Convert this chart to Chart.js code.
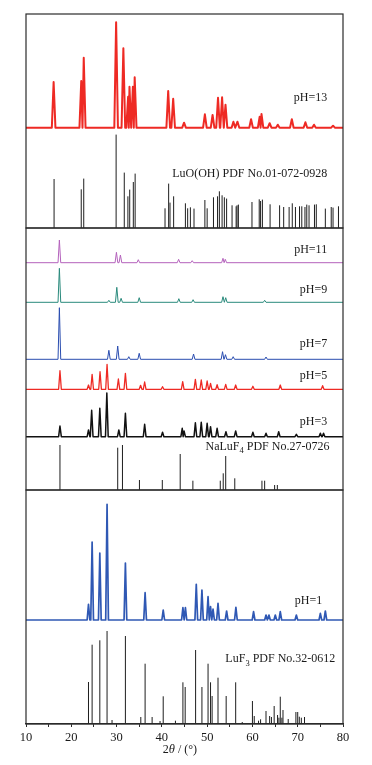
<!DOCTYPE html>
<html>
<head>
<meta charset="utf-8">
<script src="https://cdn.jsdelivr.net/npm/chart.js@4/dist/chart.umd.min.js"></script>
<style>
  body { margin: 0; background: #fff; }
  #xrd { display: block; }
</style>
</head>
<body>
<canvas id="xrd" width="372" height="765"></canvas>
<script>
// 2theta positions (deg) and peak intensities (a.u.)

// pH=13 pattern
const ph13Pos = [16.1, 22.2, 22.75, 29.9, 31.5, 32.55, 32.85, 33.6, 34.0, 41.4, 42.5, 44.9, 49.5, 51.2, 52.4, 53.3, 54.05, 55.8, 56.7, 59.7, 61.6, 62.0, 63.8, 65.6, 68.7, 71.7, 73.6, 77.8];
const ph13Int = [45.7, 46.7, 70, 105.4, 79.4, 31, 41, 41, 50.4, 36.7, 29, 5, 13.4, 12.7, 30, 30.4, 23, 6, 6, 8.4, 11, 13.7, 4.5, 3, 8.4, 5.4, 3, 2];

// LuO(OH) PDF 01-072-0928
const luoohPos = [16.2, 22.2, 22.75, 29.9, 31.7, 32.5, 32.9, 33.7, 34.1, 40.7, 41.5, 41.8, 42.6, 45.2, 45.7, 46.3, 47.1, 49.5, 50.0, 51.4, 52.3, 52.7, 53.3, 53.8, 54.3, 55.5, 56.4, 56.6, 56.9, 59.9, 61.5, 61.8, 62.2, 63.9, 66.0, 66.9, 68.1, 68.8, 69.5, 70.4, 70.9, 71.6, 72.0, 72.5, 73.7, 74.1, 76.1, 77.4, 77.8, 79.0];
const luoohInt = [49, 38.7, 49.4, 93.4, 55.4, 31.7, 38.4, 46, 54.4, 19.7, 44.4, 25.4, 31.7, 24.7, 19.7, 20.7, 19.4, 28, 19.7, 30.7, 31.7, 36.7, 32.7, 30.7, 29.4, 22.7, 21.7, 22.7, 23.4, 26, 28.7, 27, 28.4, 23.7, 22.7, 21, 21, 24.7, 21, 21.7, 21.7, 21, 23.4, 22.7, 23.4, 23.7, 19.4, 21, 20.4, 21.7];

// pH=11
const ph11Pos = [17.37, 29.97, 30.85, 34.8, 43.7, 46.7, 53.5, 54.0];
const ph11Int = [22.7, 10.4, 7.7, 3, 3.4, 2, 4.4, 3.4];

// pH=9
const ph9Pos = [17.37, 28.3, 30.05, 31.0, 35.0, 43.75, 46.9, 53.5, 54.1, 62.7];
const ph9Int = [34, 2, 15, 4, 4.6, 3.6, 2.6, 5.6, 4.6, 2];

// pH=7
const ph7Pos = [17.37, 28.3, 30.25, 32.7, 35.0, 47.0, 53.4, 54.05, 55.75, 63.0];
const ph7Int = [51.6, 9, 13.3, 2.6, 6, 5.3, 7.6, 4.6, 2.6, 2.3];

// pH=5
const ph5Pos = [17.5, 23.8, 24.6, 26.35, 27.9, 30.4, 31.95, 35.3, 36.2, 40.15, 44.6, 47.4, 48.7, 50.0, 50.75, 52.2, 54.1, 56.3, 60.1, 66.15, 75.5];
const ph5Int = [18.6, 4.3, 15, 17.6, 25, 10.3, 16, 4, 7.3, 2.6, 7.6, 10, 9.3, 8.3, 6, 4.6, 5, 4.3, 3, 4.3, 3.6];

// pH=3
const ph3Pos = [17.5, 23.8, 24.5, 26.3, 27.85, 30.5, 31.95, 36.2, 40.15, 44.5, 44.9, 47.4, 48.7, 50.0, 50.75, 52.2, 54.15, 56.3, 60.1, 63.0, 65.8, 69.7, 75.0, 75.7];
const ph3Int = [10.7, 6.7, 26.4, 28.4, 43.7, 6.7, 23.4, 12.4, 4.4, 8.4, 5.7, 14, 14.4, 13.4, 10, 8.4, 5, 5.7, 4.4, 3.4, 5, 2.4, 3.4, 3.4];

// NaLuF4 PDF 27-0726
const naluf4Pos = [17.5, 30.25, 31.3, 35.05, 40.1, 44.05, 46.85, 52.9, 53.55, 54.1, 56.1, 62.1, 62.7, 64.9, 65.5];
const naluf4Int = [45, 42.3, 45, 10, 10, 36, 9.3, 9.3, 16.7, 34, 11.7, 9.3, 9.3, 5, 5];

// pH=1
const ph1Pos = [23.8, 24.6, 26.3, 27.9, 31.95, 36.3, 40.3, 44.65, 45.2, 47.6, 48.85, 50.2, 50.75, 51.3, 52.4, 54.3, 56.35, 60.25, 63.0, 63.65, 65.05, 66.15, 69.7, 75.0, 76.1];
const ph1Int = [15.7, 78, 67, 115.7, 57, 27.3, 10, 12.3, 12.3, 35.7, 30, 23.3, 13.3, 11, 16.7, 9, 12.7, 8.3, 5, 5, 5, 8.3, 5, 6.7, 9];

// LuF3 PDF 32-0612
const luf3Pos = [23.8, 24.6, 26.3, 27.9, 29.0, 31.95, 35.35, 36.3, 37.85, 39.6, 40.3, 43.0, 44.65, 45.15, 47.45, 48.85, 50.2, 50.75, 51.1, 52.4, 54.2, 56.3, 57.75, 60.0, 60.4, 61.35, 61.8, 63.0, 63.8, 64.2, 64.8, 65.55, 65.85, 66.15, 66.5, 66.75, 67.9, 69.6, 70.0, 70.35, 70.8, 71.5];
const luf3Int = [42, 79.3, 83.7, 93, 4, 88, 7, 60.3, 7, 3, 27.7, 3.3, 41.7, 37, 74, 37, 60.3, 41.7, 28, 46.3, 28, 41.7, 2, 23, 8, 3.3, 4.7, 13, 8, 7, 18, 9, 6.3, 27.3, 6.3, 14, 5, 12, 12, 7.3, 6.3, 7];

const xTickValues = [10, 20, 30, 40, 50, 60, 70, 80];

// vertical layout of the stacked panels (y units)
const panels = [[0, 234], [234, 496], [496, 710]];

function pattern(pos, inten, base, w) {
  const pts = [{ x: 10, y: base }];
  for (let i = 0; i < pos.length; i++) {
    const p = pos[i];
    const lo = i > 0 ? Math.max(p - w, (pos[i - 1] + p) / 2) : p - w;
    const hi = i < pos.length - 1 ? Math.min(p + w, (p + pos[i + 1]) / 2) : p + w;
    pts.push({ x: lo, y: base }, { x: p, y: base + inten[i] }, { x: hi, y: base });
  }
  pts.push({ x: 80, y: base });
  return pts;
}

function sticks(pos, inten, base) {
  const pts = [];
  pos.forEach((p, i) => {
    pts.push({ x: p, y: base }, { x: p, y: base + inten[i] }, { x: p, y: null });
  });
  return pts;
}

function trace(data, color, width) {
  return {
    data: data, borderColor: color, borderWidth: width, pointRadius: 0,
    tension: 0, fill: false, borderJoinStyle: 'round', spanGaps: false
  };
}

const labels = [
  { parts: [['pH=13']], x: 76.5, y: 625.7 },
  { parts: [['LuO(OH) PDF No.01-072-0928']], x: 76.5, y: 550 },
  { parts: [['pH=11']], x: 76.5, y: 474 },
  { parts: [['pH=9']], x: 76.5, y: 434 },
  { parts: [['pH=7']], x: 76.5, y: 380 },
  { parts: [['pH=5']], x: 76.5, y: 348 },
  { parts: [['pH=3']], x: 76.5, y: 302.3 },
  { parts: [['NaLuF'], ['4', 'sub'], [' PDF No.27-0726']], x: 77.0, y: 277.3 },
  { parts: [['pH=1']], x: 75.4, y: 123.3 },
  { parts: [['LuF'], ['3', 'sub'], [' PDF No.32-0612']], x: 78.3, y: 64.7 },
  { parts: [['2'], ['\u03b8', 'it'], [' / (\u00b0)']], x: 44.0, y: -26, center: true }
];

const FONT = "'Liberation Serif', 'Times New Roman', serif";

const decor = {
  id: 'decor',
  afterDatasetsDraw(chart) {
    const ctx = chart.ctx;
    const xs = chart.scales.x, ys = chart.scales.y;
    ctx.save();
    ctx.strokeStyle = '#2b2b2b';
    ctx.lineWidth = 1.2;
    panels.forEach(([a, b]) => {
      const top = ys.getPixelForValue(b), bot = ys.getPixelForValue(a);
      ctx.strokeRect(xs.left, top, xs.right - xs.left, bot - top);
    });
    ctx.fillStyle = '#1a1a1a';
    ctx.textBaseline = 'middle';
    labels.forEach(l => {
      const fonts = l.parts.map(p => p[1] === 'sub' ? '8.5px ' + FONT : (p[1] === 'it' ? 'italic 12.5px ' + FONT : '12px ' + FONT));
      let total = 0;
      const widths = l.parts.map((p, i) => { ctx.font = fonts[i]; const w = ctx.measureText(p[0]).width; total += w; return w; });
      let px = xs.getPixelForValue(l.x);
      px = l.center ? px - total / 2 : px - total;
      const py = ys.getPixelForValue(l.y);
      l.parts.forEach((p, i) => {
        ctx.font = fonts[i];
        ctx.fillText(p[0], px, p[1] === 'sub' ? py + 4 : py);
        px += widths[i];
      });
    });
    ctx.restore();
  }
};

new Chart(document.getElementById('xrd'), {
  type: 'line',
  data: {
    datasets: [
      trace(pattern(ph13Pos, ph13Int, 596.3, 0.4), '#ee2a24', 2),
      trace(sticks(luoohPos, luoohInt, 496), '#1e1e1e', 1),
      trace(pattern(ph11Pos, ph11Int, 461.3, 0.3), '#b462bc', 1),
      trace(pattern(ph9Pos, ph9Int, 421.7, 0.3), '#2a8a7c', 1),
      trace(pattern(ph7Pos, ph7Int, 364.7, 0.3), '#2a4db0', 1),
      trace(pattern(ph5Pos, ph5Int, 334.7, 0.3), '#ee2a24', 1.3),
      trace(pattern(ph3Pos, ph3Int, 287.3, 0.3), '#111111', 1.5),
      trace(sticks(naluf4Pos, naluf4Int, 234), '#1e1e1e', 1),
      trace(pattern(ph1Pos, ph1Int, 104, 0.3), '#2f58b4', 1.7),
      trace(sticks(luf3Pos, luf3Int, 0), '#1e1e1e', 1)
    ]
  },
  options: {
    responsive: false,
    animation: false,
    parsing: true,
    layout: { padding: { left: 26, right: 29, top: 14, bottom: 1 } },
    plugins: { legend: { display: false }, tooltip: { enabled: false } },
    scales: {
      x: {
        type: 'linear', min: 10, max: 80,
        afterFit(scale) { scale.height = 40; },
        border: { display: true, color: '#2b2b2b', width: 1.2 },
        grid: { drawOnChartArea: false, drawTicks: true, tickLength: 3, color: '#2b2b2b' },
        ticks: {
          stepSize: 5, padding: 3, color: '#1a1a1a', maxRotation: 0, autoSkip: false,
          font: { family: FONT, size: 12.5 },
          callback: v => xTickValues.includes(v) ? String(v) : ''
        }
      },
      y: { type: 'linear', min: 0, max: 710, display: false }
    }
  },
  plugins: [decor]
});
</script>
</body>
</html>
